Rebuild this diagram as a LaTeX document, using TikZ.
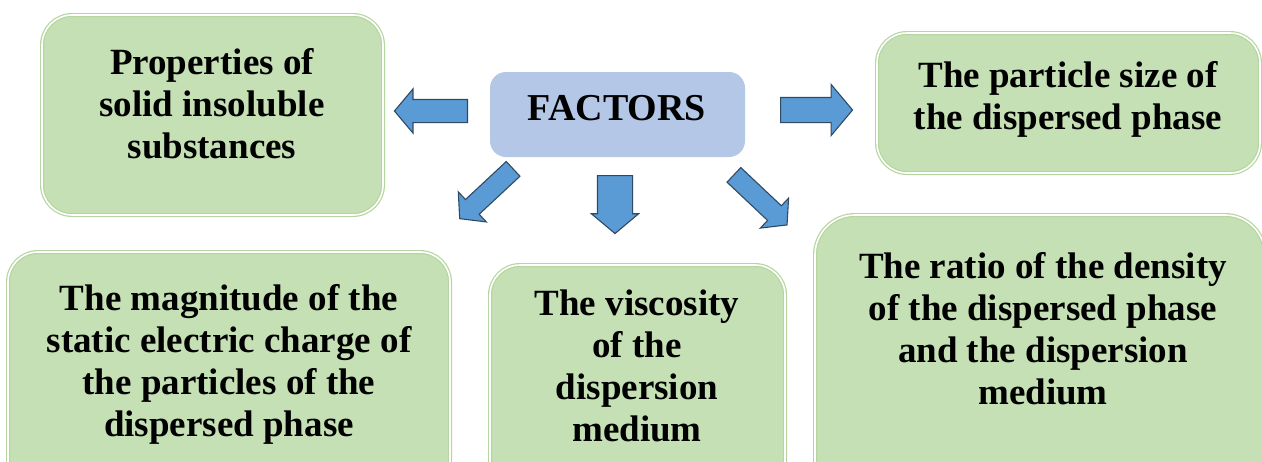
\documentclass[tikz,border=0pt]{standalone}
\usepackage{fontspec}
\setmainfont{Liberation Serif}
\usetikzlibrary{shapes.arrows}
\definecolor{boxgreen}{HTML}{C5E0B4}
\definecolor{boxedge}{HTML}{B5D6A0}
\definecolor{factblue}{HTML}{B4C7E7}
\definecolor{arrblue}{HTML}{5B9BD5}
\definecolor{arredge}{HTML}{2F4A63}
\begin{document}
\begin{tikzpicture}[x=1pt,y=-1pt,
  gbox/.style={fill=boxgreen,draw=boxedge,line width=1.2pt,double=white,double distance=1.6pt,rounded corners=30pt},
  txt/.style={align=center,font=\fontsize{37}{42}\selectfont\bfseries,inner sep=0pt},
  barrow/.style={single arrow,fill=arrblue,draw=arredge,line width=1.1pt,inner xsep=0pt,anchor=tail,single arrow tip angle=100}]
\useasboundingbox (0,0) rectangle (1262,461);
% boxes
\draw[gbox] (42,15) rectangle (383,215);
\draw[gbox] (877,33) rectangle (1260,173);
\draw[gbox] (8,252) rectangle (450,500);
\draw[gbox] (490,265) rectangle (785,500);
\draw[gbox,rounded corners=40pt] (815,215) rectangle (1265,500);
\fill[factblue,rounded corners=16pt] (490,72) rectangle (745,157);
% texts
\node[txt,font=\fontsize{38}{42}\selectfont\bfseries] (fac) at (617,108) {FACTORS};
\node[txt] (t1) at (212,104) {Properties of\\solid insoluble\\substances};
\node[txt] (t2) at (1068,99) {The particle size of\\the dispersed phase};
\node[txt] (t3) at (229,364) {The magnitude of the\\static electric charge of\\the particles of the\\dispersed phase};
\node[txt] (t4) at (637,366) {The viscosity\\of the\\dispersion\\medium};
\node[txt] (t5) at (1043,329) {The ratio of the density\\of the dispersed phase\\and the dispersion\\medium};
% arrows
\node[barrow,rotate=180,minimum height=73pt,inner ysep=11pt,single arrow head extend=10.5pt] (aL) at (468,111) {};
\node[barrow,rotate=0,minimum height=72pt,inner ysep=12pt,single arrow head extend=13pt] (aR) at (780,110) {};
\node[barrow,rotate=-90,minimum height=58pt,inner ysep=17pt,single arrow head extend=6pt] (aD) at (615,175) {};
\node[barrow,rotate=223,minimum height=73pt,inner ysep=9.5pt,single arrow head extend=10.5pt] (aDL) at (513.5,168.5) {};
\node[barrow,rotate=-43.3,minimum height=73pt,inner ysep=9.5pt,single arrow head extend=10.5pt] (aDR) at (733.5,174.5) {};
\end{tikzpicture}
\end{document}
